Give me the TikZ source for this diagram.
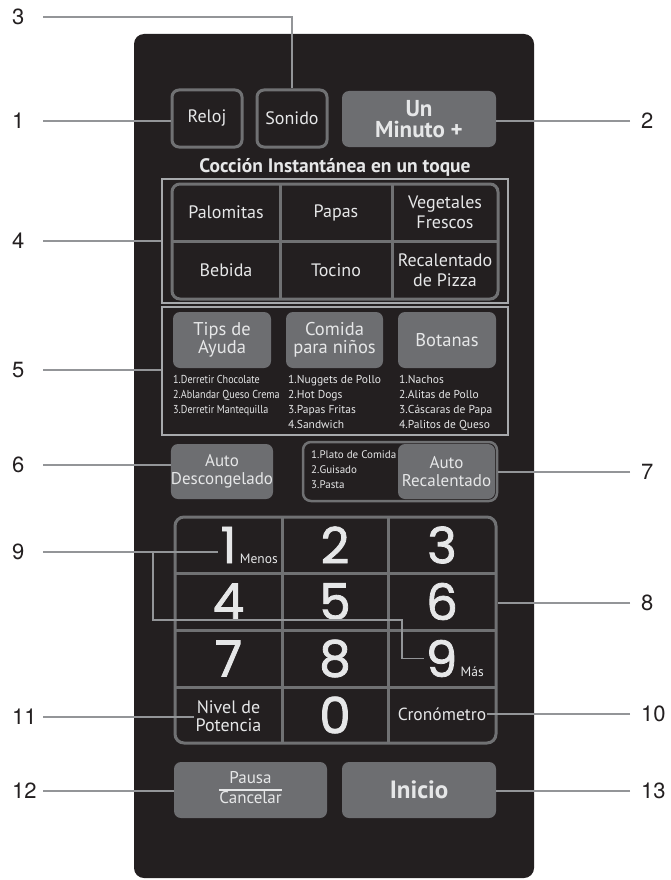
\documentclass[tikz,border=0pt]{standalone}
\usepackage{fontspec}
\setmainfont{PT Sans}
\newfontfamily\digitfont[FakeBold=1.6]{Poppins}
\newfontfamily\calloutfont{TeX Gyre Heros}
\newfontfamily\condfont[FakeStretch=0.88]{PT Sans}
\setlength\arrayrulewidth{1.5pt}
\definecolor{panel}{HTML}{231F20}
\definecolor{keygray}{HTML}{6D6E71}
\definecolor{rimgray}{HTML}{707173}
\definecolor{boxgray}{HTML}{A7A9AC}
\definecolor{leadgray}{HTML}{939598}
\definecolor{keytext}{HTML}{E6E7E8}

\begin{document}
\begin{tikzpicture}[x=1pt, y=-1pt,
  rim/.style={draw=rimgray, line width=3pt},
  outlinekey/.style={rim, fill=panel, rounded corners=7pt, text=keytext, align=center,
    inner sep=0pt, font=\fontsize{18}{19}\selectfont},
  graykey/.style={fill=keygray, rounded corners=7pt, text=keytext, align=center,
    inner sep=0pt, font=\fontsize{17}{18}\selectfont},
  keylabel/.style={text=keytext, align=center, inner sep=1pt, font=\fontsize{18}{19.5}\selectfont},
  listtext/.style={text=keytext, align=left, anchor=north west, inner sep=0pt,
    font=\fontsize{11.5}{15}\selectfont},
  digit/.style={text=keytext, inner sep=2pt, font=\digitfont\fontsize{50}{50}\selectfont},
  subtext/.style={text=keytext, anchor=base west, inner sep=1pt, font=\fontsize{13.5}{13}\selectfont},
  group/.style={draw=boxgray, line width=1.5pt, inner sep=0pt},
  num/.style={text=panel, anchor=west, inner sep=0pt, font=\calloutfont\fontsize{22}{22}\selectfont},
  lead/.style={draw=leadgray, line width=1.3pt}]
  \useasboundingbox (0,0) rectangle (671,880);
  \fill[panel, rounded corners=10pt] (134,34) rectangle (534,878);

  % top row
  \node[outlinekey, minimum width=70pt, minimum height=57pt] (reloj) at (207,118.5) {Reloj};
  \node[outlinekey, minimum width=70pt, minimum height=57pt] (sonido) at (292,118.5) {Sonido};
  \node[graykey, minimum width=154pt, minimum height=56pt, font=\bfseries\fontsize{23}{21}\selectfont]
    (minuto) at (419,119) {Un\\Minuto +};
  \node[text=keytext, font=\bfseries\fontsize{19.5}{19.5}\selectfont] (titulo) at (335,167)
    {Cocción Instantánea en un toque};

  % instant cooking keys
  \node[group, minimum width=346pt, minimum height=124pt] (grp4) at (335,241) {};
  \draw[rim, rounded corners=8pt] (172,184) rectangle (498,299);
  \draw[rim] (280,184) -- (280,299) (392,184) -- (392,299) (172,241) -- (498,241);
  \node[keylabel] (palomitas) at (226,212.5) {Palomitas};
  \node[keylabel] (papas) at (336,212.5) {Papas};
  \node[keylabel] (vegetales) at (445,212.5) {Vegetales\\Frescos};
  \node[keylabel] (bebida) at (226,270) {Bebida};
  \node[keylabel] (tocino) at (336,270) {Tocino};
  \node[keylabel] (pizza) at (445,270) {Recalentado\\de Pizza};

  % menu keys
  \node[group, minimum width=346pt, minimum height=128pt] (grp5) at (335,371) {};
  \node[graykey, minimum width=98pt, minimum height=56pt, font=\fontsize{18.5}{18.5}\selectfont]
    (tips) at (222,340) {Tips de\\Ayuda};
  \node[graykey, minimum width=97pt, minimum height=56pt, font=\fontsize{18.5}{18.5}\selectfont]
    (comida) at (334.5,340) {Comida\\para niños};
  \node[graykey, minimum width=98pt, minimum height=56pt, font=\fontsize{18.5}{18.5}\selectfont]
    (botanas) at (447,340) {Botanas};
  \node[listtext, font=\condfont\fontsize{11.5}{15}\selectfont] (lista1) at (173,375)
    {1.Derretir Chocolate\\2.Ablandar Queso Crema\\3.Derretir Mantequilla};
  \node[listtext] (lista2) at (288,375) {1.Nuggets de Pollo\\2.Hot Dogs\\3.Papas Fritas\\4.Sandwich};
  \node[listtext] (lista3) at (399,375) {1.Nachos\\2.Alitas de Pollo\\3.Cáscaras de Papa\\4.Palitos de Queso};

  % auto keys
  \node[graykey, minimum width=98pt, minimum height=55pt] (desc) at (222,471.5) {Auto\\Descongelado};
  \node[rim, line width=2.5pt, rounded corners=8pt, minimum width=194pt, minimum height=59pt]
    (grp7) at (400,471.5) {};
  \node[graykey, minimum width=97pt, minimum height=55pt] (recal) at (446.5,471.5) {Auto\\Recalentado};
  \node[listtext, font=\fontsize{11}{15}\selectfont] (lista7) at (311,450)
    {1.Plato de Comida\\2.Guisado\\3.Pasta};

  % number pad
  \node[rim, rounded corners=9pt, minimum width=321pt, minimum height=226pt] (pad) at (335.5,630) {};
  \draw[rim] (282,517) -- (282,743) (388,517) -- (388,743);
  \draw[rim] (175,573) -- (496,573) (175,630) -- (496,630) (175,687) -- (496,687);
  \node[digit] (k1) at (228.5,545) {1};
  \node[subtext] (menos) at (k1.base east) {Menos};
  \node[digit] (k2) at (335,545) {2};
  \node[digit] (k3) at (442,545) {3};
  \node[digit] (k4) at (228.5,601.5) {4};
  \node[digit] (k5) at (335,601.5) {5};
  \node[digit] (k6) at (442,601.5) {6};
  \node[digit] (k7) at (228.5,658.5) {7};
  \node[digit] (k8) at (335,658.5) {8};
  \node[digit] (k9) at (441.5,658.5) {9};
  \node[subtext] (mas) at (k9.base east) {Más};
  \node[keylabel, font=\fontsize{18}{18}\selectfont] (nivel) at (228.5,716) {Nivel de\\Potencia};
  \node[digit] (k0) at (335,715) {0};
  \node[keylabel, font=\fontsize{17.5}{18}\selectfont] (crono) at (442,714) {Cronómetro};

  % bottom keys
  \node[graykey, minimum width=153pt, minimum height=56pt] (pausa) at (250.5,790)
    {\begin{tabular}{@{}c@{}}Pausa\\\hline Cancelar\end{tabular}};
  \node[graykey, minimum width=154pt, minimum height=56pt, font=\bfseries\fontsize{25}{25}\selectfont]
    (inicio) at (419,790) {Inicio};

  % callout numbers
  \node[num] (n3) at (12,17) {3};
  \node[num] (n1) at (12,121) {1};
  \node[num] (n4) at (12,241) {4};
  \node[num] (n5) at (12,370) {5};
  \node[num] (n6) at (12,465) {6};
  \node[num] (n9) at (12,552) {9};
  \node[num] (n11) at (12,717) {11};
  \node[num] (n12) at (12,791) {12};
  \node[num] (n2) at (641,121) {2};
  \node[num] (n7) at (641,472) {7};
  \node[num] (n8) at (641,603) {8};
  \node[num] (n10) at (641,714) {10};
  \node[num] (n13) at (641,791) {13};

  % leader lines
  \coordinate (L) at (43,0);
  \coordinate (R) at (630,0);
  \coordinate (drop) at (153,620);
  \coordinate (step9) at (402,620);
  \draw[lead] (n3 -| L) -- (n3 -| sonido.north) -- (sonido.north);
  \draw[lead] (n1 -| L) -- (n1 -| reloj.west);
  \draw[lead] (n2 -| R) -- (n2 -| minuto.east);
  \draw[lead] (n4 -| L) -- (n4 -| grp4.west);
  \draw[lead] (n5 -| L) -- (n5 -| grp5.west);
  \draw[lead] (n6 -| L) -- (n6 -| desc.west);
  \draw[lead] (n7 -| R) -- (n7 -| grp7.east);
  \draw[lead] (n8 -| R) -- (n8 -| pad.east);
  \draw[lead] (n9 -| L) -- (n9 -| k1.west);
  \draw[lead] (n9 -| drop) -- (drop) -- (step9) |- (k9.west);
  \draw[lead] (n10 -| R) -- (n10 -| crono.east);
  \draw[lead] (n11 -| L) -- (n11 -| nivel.west);
  \draw[lead] (n12 -| L) -- (n12 -| pausa.west);
  \draw[lead] (n13 -| R) -- (n13 -| inicio.east);
\end{tikzpicture}
\end{document}
